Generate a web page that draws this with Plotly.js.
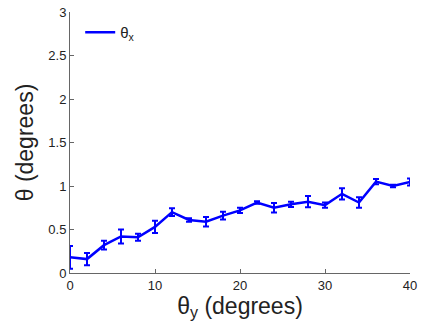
<!DOCTYPE html>
<html>
<head>
<meta charset="utf-8">
<script src="https://cdn.plot.ly/plotly-3.0.1.min.js"></script>
<style>html,body{margin:0;padding:0;background:#fff;}#chart{width:432px;height:334px;}</style>
</head>
<body>
<div id="chart"></div>
<script>
const thetaY = [0, 2, 4, 6, 8, 10, 12, 14, 16, 18, 20, 22, 24, 26, 28, 30, 32, 34, 36, 38, 40];
const thetaX = [0.18, 0.16, 0.32, 0.42, 0.41, 0.53, 0.70, 0.61, 0.59, 0.66, 0.72, 0.81, 0.75, 0.79, 0.82, 0.78, 0.91, 0.81, 1.05, 1.00, 1.045];
const thetaXErr = [0.13, 0.07, 0.05, 0.08, 0.04, 0.07, 0.045, 0.02, 0.055, 0.045, 0.03, 0.015, 0.055, 0.03, 0.065, 0.03, 0.065, 0.06, 0.03, 0.015, 0.04];
const xTicks = [0, 10, 20, 30, 40];
const yTicks = [0, 0.5, 1, 1.5, 2, 2.5, 3];

const trace = {
  x: thetaY, y: thetaX, type: 'scatter', mode: 'lines', name: 'θ<sub>x</sub>',
  line: {color: '#0000ff', width: 2.5},
  error_y: {type: 'data', array: thetaXErr, visible: true, color: '#0000ff', thickness: 2, width: 3}
};
const font = {family: 'Liberation Sans, Arial, sans-serif', color: '#222'};
const layout = {
  width: 432, height: 334,
  margin: {l: 70, r: 22, t: 12, b: 61},
  paper_bgcolor: '#fff', plot_bgcolor: '#fff',
  font: Object.assign({size: 13}, font),
  showlegend: true,
  legend: {x: 0.03, y: 0.985, xanchor: 'left', yanchor: 'top', bgcolor: 'rgba(0,0,0,0)', font: {size: 15, color: '#222'}},
  xaxis: {
    range: [0, 40], tickvals: xTicks, ticktext: xTicks.map(String),
    ticks: 'inside', ticklen: 4, tickcolor: '#666', showline: true, linecolor: '#666', linewidth: 1,
    showgrid: false, zeroline: false, tickfont: {size: 13, color: '#222'},
    title: {text: 'θ<sub>y</sub> (degrees)', font: {size: 23, color: '#222'}, standoff: 4}
  },
  yaxis: {
    range: [0, 3], tickvals: yTicks, ticktext: yTicks.map(String),
    ticks: 'inside', ticklen: 4, tickcolor: '#666', showline: true, linecolor: '#666', linewidth: 1,
    showgrid: false, zeroline: false, tickfont: {size: 13, color: '#222'},
    title: {text: 'θ (degrees)', font: {size: 23, color: '#222'}, standoff: 8}
  }
};
Plotly.newPlot('chart', [trace], layout, {displayModeBar: false, staticPlot: true});
</script>
</body>
</html>
